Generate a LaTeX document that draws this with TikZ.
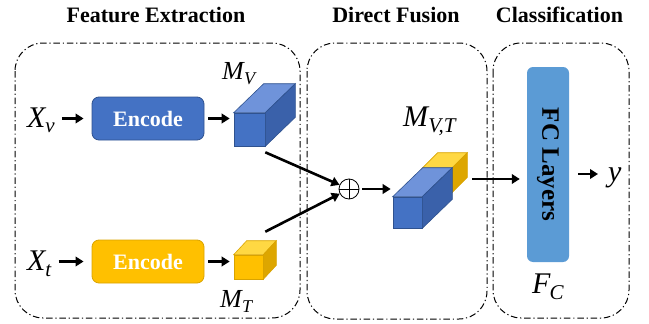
\documentclass[tikz,border=0pt]{standalone}
\usepackage{fontspec}
\setmainfont{Liberation Serif}
\usetikzlibrary{arrows.meta}
\definecolor{encblue}{HTML}{4472C4}
\definecolor{encblueb}{HTML}{2F528F}
\definecolor{cubetop}{HTML}{6F93DA}
\definecolor{cubeside}{HTML}{3A61AA}
\definecolor{encyel}{HTML}{FFC000}
\definecolor{encyelb}{HTML}{D9A300}
\definecolor{yeltop}{HTML}{FFD843}
\definecolor{yelside}{HTML}{DDA600}
\definecolor{fcblue}{HTML}{5B9BD5}
\newcommand\cubefaces[6]{%
  \draw[face=#6, fill=#4] (#1.north west) -- ++(#2,#3) -- ([shift={(#2,#3)}]#1.north east) -- (#1.north east) -- cycle;
  \draw[face=#6, fill=#5] (#1.north east) -- ++(#2,#3) -- ([shift={(#2,#3)}]#1.south east) -- (#1.south east) -- cycle;
}
\newcommand\sublab[3]{\textit{#1}\kern-0.04em\raisebox{-0.2em}{\fontsize{#3}{#3}\selectfont\textit{#2}}}
\begin{document}
\begin{tikzpicture}[x=1pt,y=-1pt,
  group/.style={draw, line width=1pt, dash pattern=on 6.5pt off 2.8pt on 1.2pt off 2.8pt, rounded corners=28pt},
  title/.style={font=\bfseries\fontsize{22}{24}\selectfont, inner sep=0pt, anchor=base},
  encode/.style={rounded corners=7pt, minimum width=112pt, minimum height=43pt, font=\bfseries\fontsize{22}{24}\selectfont, text=white, line width=0.8pt, inner sep=0pt},
  biglab/.style={font=\fontsize{30}{32}\selectfont, inner sep=0pt, anchor=base west},
  smalllab/.style={font=\fontsize{26}{28}\selectfont, inner sep=0pt, anchor=base west},
  arr/.style={line width=2.6pt, -{Triangle[length=8pt,width=9.5pt]}},
  face/.style={draw=#1, line width=0.6pt},
  front/.style={draw=#1, line width=0.6pt, inner sep=0pt},
]
\useasboundingbox (0,0) rectangle (649,324);

% groups
\draw[group] (15,43) rectangle (300,318);
\draw[group] (307,43) rectangle (487,319);
\draw[group] (493,43) rectangle (629,318);

% titles
\node[title] (t1) at (156,23) {Feature Extraction};
\node[title] (t2) at (396,22) {Direct Fusion};
\node[title] (t3) at (559.5,23) {Classification};

% inputs
\node[biglab] (xv) at (27,127) {\sublab{X}{v}{21}};
\node[biglab] (xt) at (27,270) {\sublab{X}{t}{21}};

% encoders
\node[encode, fill=encblue, draw=encblueb] (enc1) at (148,118.5) {Encode};
\node[encode, fill=encyel, draw=encyelb] (enc2) at (148,261.5) {Encode};

\draw[arr] ([xshift=7pt]xv.east |- enc1) -- ([xshift=-8pt]enc1.west);
\draw[arr] ([xshift=7pt]xt.east |- enc2) -- ([xshift=-8pt]enc2.west);

% M_V cube
\node[front=encblueb, fill=encblue, minimum width=31pt, minimum height=33pt] (mv) at (249.5,129.5) {};
\cubefaces{mv}{30}{-29}{cubetop}{cubeside}{encblueb}
\node[smalllab] (mvl) at (222,79) {\sublab{M}{V}{18}};

% M_T cube
\node[front=encyelb, fill=encyel, minimum width=29pt, minimum height=24pt] (mt) at (248.5,267) {};
\cubefaces{mt}{13}{-14}{yeltop}{yelside}{encyelb}
\node[smalllab] (mtl) at (220,307) {\sublab{M}{T}{18}};

\draw[arr] ([xshift=4pt]enc1.east) -- ([xshift=-4pt]mv.west |- enc1);
\draw[arr] ([xshift=4pt]enc2.east) -- ([xshift=-4pt]mt.west |- enc2);

% fusion
\node[draw, circle, minimum size=20pt, inner sep=0pt, line width=0.8pt, fill=white] (op) at (349,189) {};
\draw[line width=0.8pt] (op.north) -- (op.south) (op.west) -- (op.east);

\draw[arr] ([yshift=-6pt]mv.south east) -- (op);
\draw[arr] ([xshift=2pt,yshift=23pt]mt.north east) -- (op);

% fused cube
\node[front=encyelb, fill=encyel, minimum width=29pt, minimum height=24pt] (fy) at (437.5,180) {};
\cubefaces{fy}{15}{-15}{yeltop}{yelside}{encyelb}
\node[front=encblueb, fill=encblue, minimum width=29pt, minimum height=31pt] (fb) at (407.5,212.5) {};
\cubefaces{fb}{30}{-29}{cubetop}{cubeside}{encblueb}
\node[biglab] (mvtl) at (403,126) {\sublab{M}{V,T}{21}};

\draw[arr] ([xshift=3pt]op.east) -- ([xshift=-2pt]fb.west |- op);

% classification
\node[fill=fcblue, rounded corners=6pt, minimum width=42pt, minimum height=195pt, inner sep=0pt,
      font=\bfseries\fontsize{25}{27}\selectfont] (fc) at (548,164.5) {\rotatebox{-90}{FC Layers}};
\coordinate (fa) at ([xshift=20pt,yshift=1pt]fy.east);
\draw[arr] (fa) -- ([xshift=-7pt]fc.west |- fa);
\node[biglab] (y) at (608,181) {\textit{y}};
\coordinate (ya) at (0,174);
\draw[arr] ([xshift=9pt]fc.east |- ya) -- ([xshift=-10pt]y.west |- ya);
\node[biglab] (fcl) at (532,293) {\sublab{F}{C}{21}};
\end{tikzpicture}
\end{document}
